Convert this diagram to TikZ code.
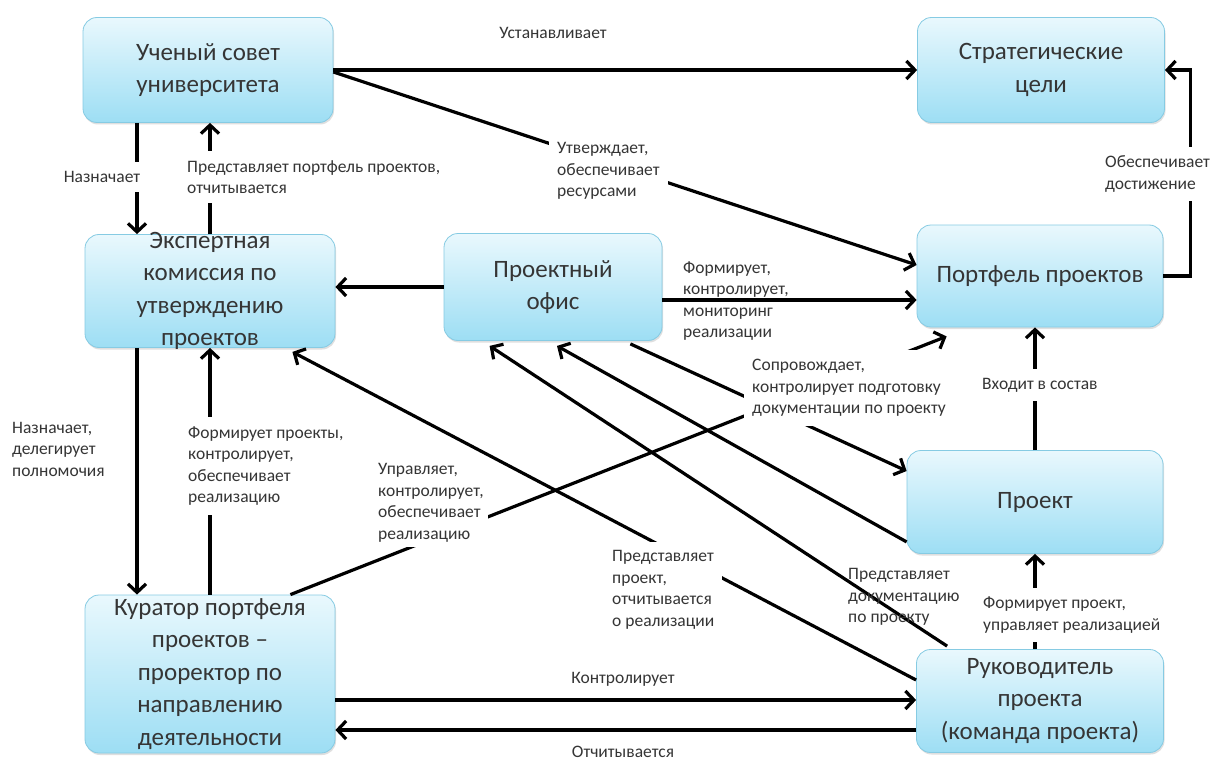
\documentclass[tikz,border=0pt]{standalone}
\usepackage{fontspec}
\setmainfont{Carlito}
\usetikzlibrary{arrows.meta,calc,shadows}
\definecolor{boxtop}{HTML}{E9F8FD}
\definecolor{boxbot}{HTML}{9DDEF4}
\definecolor{boxline}{HTML}{86CBE3}
\definecolor{txt}{HTML}{353535}
\tikzset{
 box/.style={draw=boxline, line width=0.8pt, rounded corners=14pt, top color=boxtop, bottom color=boxbot, inner sep=0pt,
   drop shadow={shadow xshift=1pt, shadow yshift=-2pt, opacity=0.25}},
 boxtext/.style={font=\fontsize{25}{32.5}\selectfont, text=txt, align=center, inner sep=0pt},
 lbl/.style={font=\fontsize{17.5}{21.5}\selectfont, text=txt, align=left, inner sep=0pt},
 cut/.style={lbl, fill=white, inner xsep=8pt, inner ysep=9pt},
 conn/.style={line width=3.2pt, -{Straight Barb[length=8.5pt,width=18pt]}},
}
\begin{document}
\begin{tikzpicture}[x=1pt,y=-1pt]
\useasboundingbox[fill=white] (0,0) rectangle (1212,762);
% boxes
\node[box, minimum width=250pt, minimum height=105pt] (U) at (208,70) {};
\node[boxtext] (Ut) at (U) {Ученый совет\\университета};
\node[box, minimum width=247pt, minimum height=105pt] (S) at (1041,70) {};
\node[boxtext] (St) at (S) {Стратегические\\цели};
\node[box, minimum width=250pt, minimum height=113pt] (E) at (210,291) {};
\node[boxtext] (Et) at (E) {Экспертная\\комиссия по\\утверждению\\проектов};
\node[box, minimum width=218pt, minimum height=107pt] (PO) at (553,287) {};
\node[boxtext] (POt) at (PO) {Проектный\\офис};
\node[box, minimum width=246pt, minimum height=102pt] (PP) at (1040,276) {};
\node[boxtext] (PPt) at (PP) {Портфель проектов};
\node[box, minimum width=256pt, minimum height=103pt] (P) at (1035,502) {};
\node[boxtext] (Pt) at (P) {Проект};
\node[box, minimum width=250pt, minimum height=158pt] (K) at (210,674) {};
\node[boxtext] (Kt) at (K) {Куратор портфеля\\проектов –\\проректор по\\направлению\\деятельности};
\node[box, minimum width=247pt, minimum height=103pt] (R) at (1040,701) {};
\node[boxtext] (Rt) at (R) {Руководитель\\проекта\\(команда проекта)};
% connectors
\draw[conn] (U.east) -- (S.west);
\draw[conn] ($(U.east)+(0,2)$) -- ($(PP.west)+(0,-11)$);
\draw[conn] ($(U.south)+(-71,0)$) -- ($(E.north)+(-73,0)$);
\draw[conn] (E.north) -- (E.north |- U.south);
\draw[conn] (PP.east) -- ++(27,0) |- (S.east);
\draw[conn] (PO.west) -- (PO.west -| E.east);
\draw[conn] ($(PO.east)+(0,13)$) -- ($(PP.west)+(0,24)$);
\draw[conn] ($(E.south)+(-73,0)$) -- ($(K.north)+(-73,0)$);
\draw[conn] (K.north) -- (K.north |- E.south);
\draw[conn] ($(K.north east)+(-45,0)$) -- ($(PP.south west)+(30,9)$);
\draw[conn] ($(PO.south east)+(-32,3)$) -- ($(P.west)+(0,-31)$);
\draw[conn] ($(P.south west)+(0,-12)$) -- ($(PO.south)+(4,5)$);
\draw[conn] ($(R.north west)+(31,-3)$) -- ($(PO.south west)+(46,5)$);
\draw[conn] ($(R.west)+(0,-21)$) -- ($(E.south east)+(-43,4)$);
\draw[conn] ($(K.east)+(0,26)$) -- ($(R.west)+(0,-1)$);
\draw[conn] ($(R.west)+(0,29)$) -- ($(K.east)+(0,56)$);
\draw[conn] (P.south |- R.north) -- (P.south);
\draw[conn] (P.north) -- (P.north |- PP.south);
% labels
\node[lbl] (l1) at (553,33) {Устанавливает};
\node[cut, anchor=west] (l2) at (549,171) {Утверждает,\\обеспечивает\\ресурсами};
\node[cut] (l3) at (102,177) {Назначает};
\node[cut, anchor=west] (l4) at (179,177) {Представляет портфель проектов,\\отчитывается};
\node[cut, anchor=west] (l5) at (1097,174) {Обеспечивает\\достижение};
\node[lbl, anchor=west] (l6) at (683,301) {Формирует,\\контролирует,\\мониторинг\\реализации};
\node[lbl, anchor=west] (l7) at (12,449) {Назначает,\\делегирует\\полномочия};
\node[cut, anchor=west] (l8) at (180,466) {Формирует проекты,\\контролирует,\\обеспечивает\\реализацию};
\node[cut, anchor=west, inner xsep=4pt, inner ysep=5pt] (l9) at (374,503) {Управляет,\\контролирует,\\обеспечивает\\реализацию};
\node[cut, anchor=west] (l10) at (744,388) {Сопровождает,\\контролирует подготовку\\документации по проекту};
\node[cut, anchor=west] (l11) at (974,385) {Входит в состав};
\node[cut, anchor=west] (l12) at (604,590) {Представляет\\проект,\\отчитывается\\о реализации};
\node[lbl, anchor=west] (l13) at (848,597) {Представляет\\документацию\\по проекту};
\node[cut, anchor=west] (l14) at (975,615) {Формирует проект,\\управляет реализацией};
\node[lbl] (l15) at (623,679) {Контролирует};
\node[lbl] (l16) at (623,752) {Отчитывается};
\end{tikzpicture}
\end{document}
